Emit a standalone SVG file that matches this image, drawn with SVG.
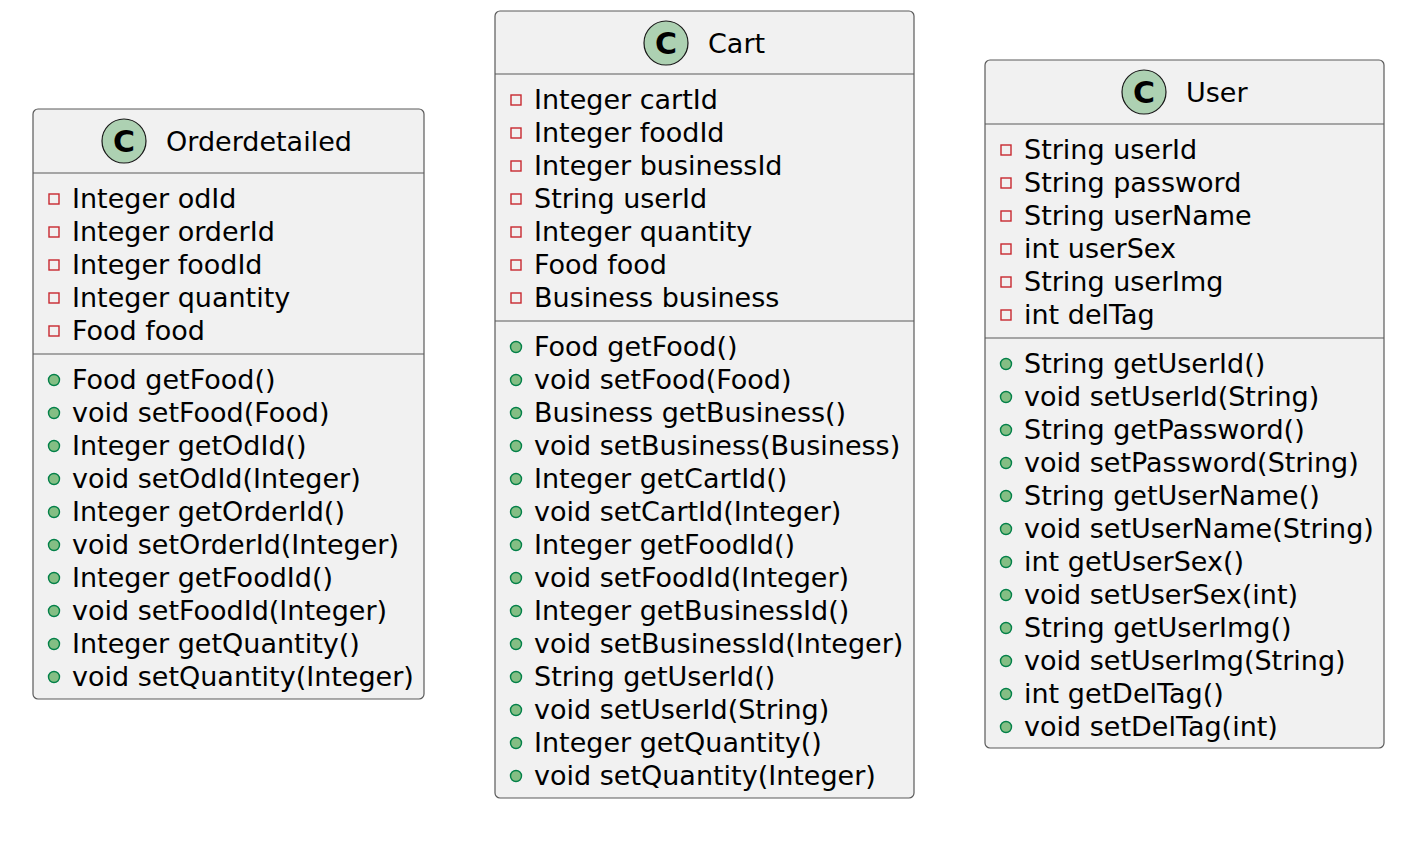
<svg xmlns="http://www.w3.org/2000/svg" width="1424" height="866" viewBox="0 0 1424 866">
<style>
.box{fill:#F1F1F1;stroke:#5a5a5a;stroke-width:1.2}
.sep{stroke:#5a5a5a;stroke-width:1.2}
.t{font-family:"DejaVu Sans",sans-serif;font-size:27px;fill:#000}
.ci{fill:#ADD1B2;stroke:#181818;stroke-width:1.2}
.cl{font-family:"DejaVu Sans",sans-serif;font-size:30px;font-weight:bold;fill:#000;text-anchor:middle}
.pv{fill:none;stroke:#C82930;stroke-width:1.4}
.pb{fill:#84BE84;stroke:#038048;stroke-width:1.4}
</style>
<rect width="1424" height="866" fill="#FFFFFF"/>
<g id="Orderdetailed">
<rect class="box" x="33" y="109" width="391" height="590" rx="5"/>
<circle class="ci" cx="124" cy="141" r="22"/>
<text class="cl" x="124" y="152">C</text>
<text class="t" x="166" y="151">Orderdetailed</text>
<line class="sep" x1="33" y1="173" x2="424" y2="173"/>
<g>
<rect class="pv" x="49" y="194" width="10" height="10"/><text class="t" x="72" y="208">Integer odId</text>
<rect class="pv" x="49" y="227" width="10" height="10"/><text class="t" x="72" y="241">Integer orderId</text>
<rect class="pv" x="49" y="260" width="10" height="10"/><text class="t" x="72" y="274">Integer foodId</text>
<rect class="pv" x="49" y="293" width="10" height="10"/><text class="t" x="72" y="307">Integer quantity</text>
<rect class="pv" x="49" y="326" width="10" height="10"/><text class="t" x="72" y="340">Food food</text>
</g>
<line class="sep" x1="33" y1="354" x2="424" y2="354"/>
<g>
<circle class="pb" cx="54" cy="380" r="5.5"/><text class="t" x="72" y="389">Food getFood()</text>
<circle class="pb" cx="54" cy="413" r="5.5"/><text class="t" x="72" y="422">void setFood(Food)</text>
<circle class="pb" cx="54" cy="446" r="5.5"/><text class="t" x="72" y="455">Integer getOdId()</text>
<circle class="pb" cx="54" cy="479" r="5.5"/><text class="t" x="72" y="488">void setOdId(Integer)</text>
<circle class="pb" cx="54" cy="512" r="5.5"/><text class="t" x="72" y="521">Integer getOrderId()</text>
<circle class="pb" cx="54" cy="545" r="5.5"/><text class="t" x="72" y="554">void setOrderId(Integer)</text>
<circle class="pb" cx="54" cy="578" r="5.5"/><text class="t" x="72" y="587">Integer getFoodId()</text>
<circle class="pb" cx="54" cy="611" r="5.5"/><text class="t" x="72" y="620">void setFoodId(Integer)</text>
<circle class="pb" cx="54" cy="644" r="5.5"/><text class="t" x="72" y="653">Integer getQuantity()</text>
<circle class="pb" cx="54" cy="677" r="5.5"/><text class="t" x="72" y="686">void setQuantity(Integer)</text>
</g>
</g>
<g id="Cart">
<rect class="box" x="495" y="11" width="419" height="787" rx="5"/>
<circle class="ci" cx="666" cy="43" r="22"/>
<text class="cl" x="666" y="54">C</text>
<text class="t" x="708" y="53">Cart</text>
<line class="sep" x1="495" y1="74" x2="914" y2="74"/>
<g>
<rect class="pv" x="511" y="95" width="10" height="10"/><text class="t" x="534" y="109">Integer cartId</text>
<rect class="pv" x="511" y="128" width="10" height="10"/><text class="t" x="534" y="142">Integer foodId</text>
<rect class="pv" x="511" y="161" width="10" height="10"/><text class="t" x="534" y="175">Integer businessId</text>
<rect class="pv" x="511" y="194" width="10" height="10"/><text class="t" x="534" y="208">String userId</text>
<rect class="pv" x="511" y="227" width="10" height="10"/><text class="t" x="534" y="241">Integer quantity</text>
<rect class="pv" x="511" y="260" width="10" height="10"/><text class="t" x="534" y="274">Food food</text>
<rect class="pv" x="511" y="293" width="10" height="10"/><text class="t" x="534" y="307">Business business</text>
</g>
<line class="sep" x1="495" y1="321" x2="914" y2="321"/>
<g>
<circle class="pb" cx="516" cy="347" r="5.5"/><text class="t" x="534" y="356">Food getFood()</text>
<circle class="pb" cx="516" cy="380" r="5.5"/><text class="t" x="534" y="389">void setFood(Food)</text>
<circle class="pb" cx="516" cy="413" r="5.5"/><text class="t" x="534" y="422">Business getBusiness()</text>
<circle class="pb" cx="516" cy="446" r="5.5"/><text class="t" x="534" y="455">void setBusiness(Business)</text>
<circle class="pb" cx="516" cy="479" r="5.5"/><text class="t" x="534" y="488">Integer getCartId()</text>
<circle class="pb" cx="516" cy="512" r="5.5"/><text class="t" x="534" y="521">void setCartId(Integer)</text>
<circle class="pb" cx="516" cy="545" r="5.5"/><text class="t" x="534" y="554">Integer getFoodId()</text>
<circle class="pb" cx="516" cy="578" r="5.5"/><text class="t" x="534" y="587">void setFoodId(Integer)</text>
<circle class="pb" cx="516" cy="611" r="5.5"/><text class="t" x="534" y="620">Integer getBusinessId()</text>
<circle class="pb" cx="516" cy="644" r="5.5"/><text class="t" x="534" y="653">void setBusinessId(Integer)</text>
<circle class="pb" cx="516" cy="677" r="5.5"/><text class="t" x="534" y="686">String getUserId()</text>
<circle class="pb" cx="516" cy="710" r="5.5"/><text class="t" x="534" y="719">void setUserId(String)</text>
<circle class="pb" cx="516" cy="743" r="5.5"/><text class="t" x="534" y="752">Integer getQuantity()</text>
<circle class="pb" cx="516" cy="776" r="5.5"/><text class="t" x="534" y="785">void setQuantity(Integer)</text>
</g>
</g>
<g id="User">
<rect class="box" x="985" y="60" width="399" height="688" rx="5"/>
<circle class="ci" cx="1144" cy="92" r="22"/>
<text class="cl" x="1144" y="103">C</text>
<text class="t" x="1186" y="102">User</text>
<line class="sep" x1="985" y1="124" x2="1384" y2="124"/>
<g>
<rect class="pv" x="1001" y="145" width="10" height="10"/><text class="t" x="1024" y="159">String userId</text>
<rect class="pv" x="1001" y="178" width="10" height="10"/><text class="t" x="1024" y="192">String password</text>
<rect class="pv" x="1001" y="211" width="10" height="10"/><text class="t" x="1024" y="225">String userName</text>
<rect class="pv" x="1001" y="244" width="10" height="10"/><text class="t" x="1024" y="258">int userSex</text>
<rect class="pv" x="1001" y="277" width="10" height="10"/><text class="t" x="1024" y="291">String userImg</text>
<rect class="pv" x="1001" y="310" width="10" height="10"/><text class="t" x="1024" y="324">int delTag</text>
</g>
<line class="sep" x1="985" y1="338" x2="1384" y2="338"/>
<g>
<circle class="pb" cx="1006" cy="364" r="5.5"/><text class="t" x="1024" y="373">String getUserId()</text>
<circle class="pb" cx="1006" cy="397" r="5.5"/><text class="t" x="1024" y="406">void setUserId(String)</text>
<circle class="pb" cx="1006" cy="430" r="5.5"/><text class="t" x="1024" y="439">String getPassword()</text>
<circle class="pb" cx="1006" cy="463" r="5.5"/><text class="t" x="1024" y="472">void setPassword(String)</text>
<circle class="pb" cx="1006" cy="496" r="5.5"/><text class="t" x="1024" y="505">String getUserName()</text>
<circle class="pb" cx="1006" cy="529" r="5.5"/><text class="t" x="1024" y="538">void setUserName(String)</text>
<circle class="pb" cx="1006" cy="562" r="5.5"/><text class="t" x="1024" y="571">int getUserSex()</text>
<circle class="pb" cx="1006" cy="595" r="5.5"/><text class="t" x="1024" y="604">void setUserSex(int)</text>
<circle class="pb" cx="1006" cy="628" r="5.5"/><text class="t" x="1024" y="637">String getUserImg()</text>
<circle class="pb" cx="1006" cy="661" r="5.5"/><text class="t" x="1024" y="670">void setUserImg(String)</text>
<circle class="pb" cx="1006" cy="694" r="5.5"/><text class="t" x="1024" y="703">int getDelTag()</text>
<circle class="pb" cx="1006" cy="727" r="5.5"/><text class="t" x="1024" y="736">void setDelTag(int)</text>
</g>
</g>
<g id="connectors"></g>
</svg>
